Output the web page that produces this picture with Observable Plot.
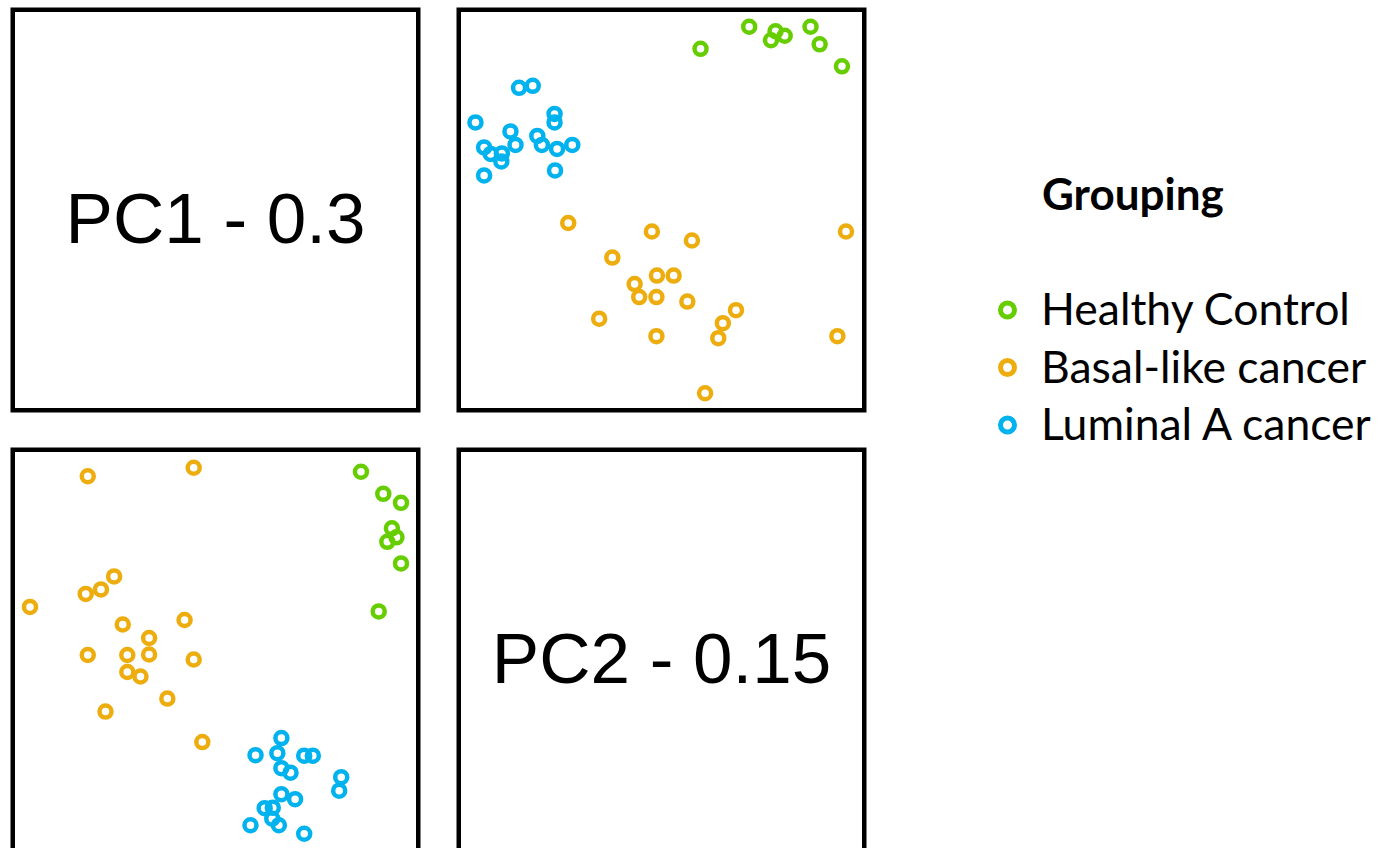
<!DOCTYPE html>
<html>
<head>
<meta charset="utf-8">
<script src="https://cdn.jsdelivr.net/npm/d3@7"></script>
<script src="https://cdn.jsdelivr.net/npm/@observablehq/plot@0.6"></script>
<style>
  html, body { margin: 0; padding: 0; background: #ffffff; overflow: hidden; width: 1392px; height: 848px; }
  .panel { position: absolute; width: 410px; height: 405px; }
  .panel svg { display: block; }
  #legend { position: absolute; left: 960px; top: 150px; }
</style>
</head>
<body>
<div id="tl" class="panel" style="left:10px; top:7px;"></div>
<div id="tr" class="panel" style="left:456px; top:7px;"></div>
<div id="bl" class="panel" style="left:10px; top:447px;"></div>
<div id="br" class="panel" style="left:456px; top:447px;"></div>
<div id="legend"></div>
<script>
// ---- Data (principal component scores) ----
const groups = ["Healthy Control", "Basal-like cancer", "Luminal A cancer"];
const colors = ["#66CD00", "#EEAD0E", "#00B2EE"];
const pcLabels = ["PC1 - 0.3", "PC2 - 0.15"];
const legendTitle = "Grouping";

const healthyPC1 = [3.22, 3.66, 3.66, 3.31, 2.87, 3.57, 3.48, 3.39];
const healthyPC2 = [0.77, 1.73, 2.94, 3.12, 3.56, 2.25, 2.43, 2.16];

const basalPC1 = [-0.26, -0.43, -0.61, -0.43, -0.95, -1.31, -1.31, -1.48, -1.74, -1.74, -1.83, -2.00, -2.26, -2.17, -2.52, -2.56, -2.52, -3.66];
const basalPC2 = [-1.84, -0.19, 0.60, 3.64, -0.97, -0.09, 0.24, -0.53, -0.44, -0.10, 0.51, 1.47, 1.21, -1.23, -0.10, 1.12, 3.47, 0.86];

const luminalPC1 = [2.44, 2.48, 1.75, 1.92, 1.75, 1.57, 1.30, 1.48, 1.30, 1.22, 1.30, 0.79, 0.69, 0.97, 1.13, 1.12, 1.25];
const luminalPC2 = [-2.81, -2.54, -3.67, -2.11, -2.11, -2.98, -2.88, -2.45, -2.36, -2.06, -1.76, -2.10, -3.50, -3.16, -3.15, -3.37, -3.50];

const pcDomain = [-4, 4];

// ---- Build a tidy table from the arrays ----
const points = [];
[[healthyPC1, healthyPC2], [basalPC1, basalPC2], [luminalPC1, luminalPC2]].forEach(([a, b], gi) => {
  a.forEach((v, i) => points.push({group: groups[gi], PC1: v, PC2: b[i]}));
});

const W = 410, H = 405, M = 2.25, BORDER = 4.5;
const base = {
  width: W, height: H,
  marginTop: M, marginRight: M, marginBottom: M, marginLeft: M,
  style: {background: "#ffffff", overflow: "visible"}
};

function scatter(xKey, yKey) {
  return Plot.plot({
    ...base,
    x: {domain: pcDomain, axis: null},
    y: {domain: pcDomain, axis: null},
    color: {domain: groups, range: colors},
    marks: [
      Plot.dot(points, {x: xKey, y: yKey, stroke: "group", r: 6, strokeWidth: 4.5, fill: "none"}),
      Plot.frame({stroke: "#000000", strokeWidth: BORDER})
    ]
  });
}

function labelPanel(t) {
  return Plot.plot({
    ...base,
    marks: [
      Plot.text([t], {
        text: d => d, frameAnchor: "middle", lineAnchor: "bottom", dy: 32.5,
        fontSize: 71, fontFamily: "'Liberation Sans', Arial, sans-serif", fill: "#000000"
      }),
      Plot.frame({stroke: "#000000", strokeWidth: BORDER})
    ]
  });
}

document.getElementById("tl").appendChild(labelPanel(pcLabels[0]));
document.getElementById("tr").appendChild(scatter("PC2", "PC1"));
document.getElementById("bl").appendChild(scatter("PC1", "PC2"));
document.getElementById("br").appendChild(labelPanel(pcLabels[1]));

// ---- Legend ----
const lg = d3.select("#legend").append("svg")
  .attr("width", 432).attr("height", 320)
  .style("font-family", "Lato, 'Open Sans', sans-serif");

lg.append("text")
  .attr("x", 82).attr("y", 60)
  .attr("font-size", 44).attr("font-weight", "bold").attr("fill", "#000")
  .text(legendTitle);

const rowStart = 175, rowStep = 57.5;
groups.forEach((g, i) => {
  const yb = rowStart + i * rowStep;
  lg.append("circle")
    .attr("cx", 47.5).attr("cy", yb - 15).attr("r", 7)
    .attr("fill", "none").attr("stroke", colors[i]).attr("stroke-width", 5);
  lg.append("text")
    .attr("x", 81).attr("y", yb)
    .attr("font-size", 44.5).attr("fill", "#000")
    .text(g);
});
</script>
</body>
</html>
